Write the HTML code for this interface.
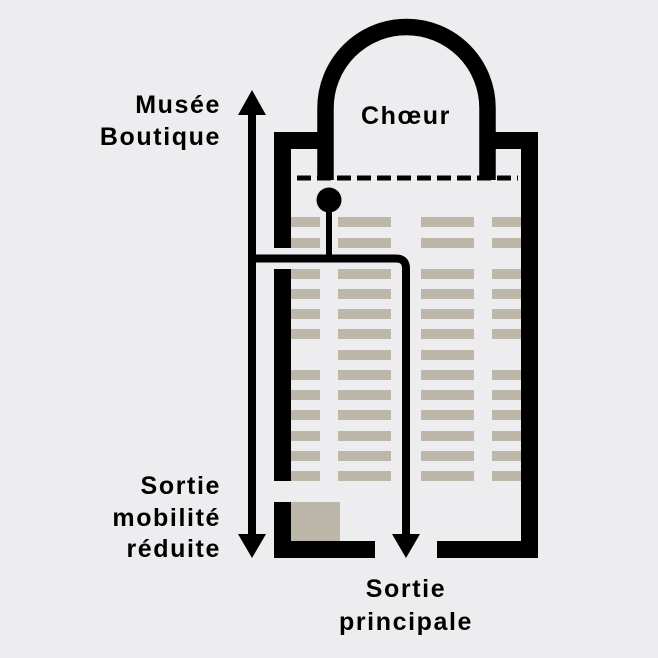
<!DOCTYPE html>
<html><head><meta charset="utf-8"><style>
html,body{margin:0;padding:0;background:#ededf0;}
svg{display:block}
text{font-family:"Liberation Sans",sans-serif;font-weight:bold;font-size:25px;letter-spacing:1.6px;fill:#000}
</style></head><body>
<svg width="658" height="658" viewBox="0 0 658 658" xmlns="http://www.w3.org/2000/svg">
<rect width="658" height="658" fill="#ededf0"/>
<g fill="#bdb7a9">
<path d="M291 217h29v10h-29zM338 217h53v10h-53zM421 217h53v10h-53zM492 217h29v10h-29z
M291 238h29v10h-29zM338 238h53v10h-53zM421 238h53v10h-53zM492 238h29v10h-29z
M291 269h29v10h-29zM338 269h53v10h-53zM421 269h53v10h-53zM492 269h29v10h-29z
M291 289h29v10h-29zM338 289h53v10h-53zM421 289h53v10h-53zM492 289h29v10h-29z
M291 309h29v10h-29zM338 309h53v10h-53zM421 309h53v10h-53zM492 309h29v10h-29z
M291 329h29v10h-29zM338 329h53v10h-53zM421 329h53v10h-53zM492 329h29v10h-29z
M338 350h53v10h-53zM421 350h53v10h-53z
M291 370h29v10h-29zM338 370h53v10h-53zM421 370h53v10h-53zM492 370h29v10h-29z
M291 390h29v10h-29zM338 390h53v10h-53zM421 390h53v10h-53zM492 390h29v10h-29z
M291 410h29v10h-29zM338 410h53v10h-53zM421 410h53v10h-53zM492 410h29v10h-29z
M291 431h29v10h-29zM338 431h53v10h-53zM421 431h53v10h-53zM492 431h29v10h-29z
M291 451h29v10h-29zM338 451h53v10h-53zM421 451h53v10h-53zM492 451h29v10h-29z
M291 471h29v10h-29zM338 471h53v10h-53zM421 471h53v10h-53zM492 471h29v10h-29z
M291 502h49v39h-49z"/>
</g>
<g fill="#000">
<rect x="274" y="132" width="17" height="116"/>
<rect x="274" y="269" width="17" height="212"/>
<rect x="274" y="502" width="17" height="56"/>
<rect x="274" y="541" width="101" height="17"/>
<rect x="437" y="541" width="101" height="17"/>
<rect x="521" y="132" width="17" height="426"/>
<rect x="274" y="132" width="59" height="17"/>
<rect x="480" y="132" width="58" height="17"/>
</g>
<path d="M325.5 180 V108 A81 81 0 0 1 487.5 108 V180" fill="none" stroke="#000" stroke-width="16.5"/>
<line x1="297" y1="178" x2="518" y2="178" stroke="#000" stroke-width="5" stroke-dasharray="14 6"/>
<circle cx="329" cy="200" r="12.5" fill="#000"/>
<line x1="329" y1="200" x2="329" y2="258" stroke="#000" stroke-width="6"/>
<path d="M248 258.5 H396 Q406 258.5 406 268.5 V540" fill="none" stroke="#000" stroke-width="8"/>
<polygon points="392,534 420,534 406,558" fill="#000"/>
<line x1="252" y1="110" x2="252" y2="540" stroke="#000" stroke-width="8"/>
<polygon points="238,115 266,115 252,90" fill="#000"/>
<polygon points="238,534 266,534 252,558" fill="#000"/>
<text x="406" y="124" text-anchor="middle">Chœur</text>
<text x="221" y="113" text-anchor="end">Musée</text>
<text x="221" y="145" text-anchor="end">Boutique</text>
<text x="221" y="494" text-anchor="end">Sortie</text>
<text x="221" y="526" text-anchor="end">mobilité</text>
<text x="221" y="557" text-anchor="end">réduite</text>
<text x="406" y="597" text-anchor="middle">Sortie</text>
<text x="406" y="630" text-anchor="middle">principale</text>
</svg>
</body></html>
